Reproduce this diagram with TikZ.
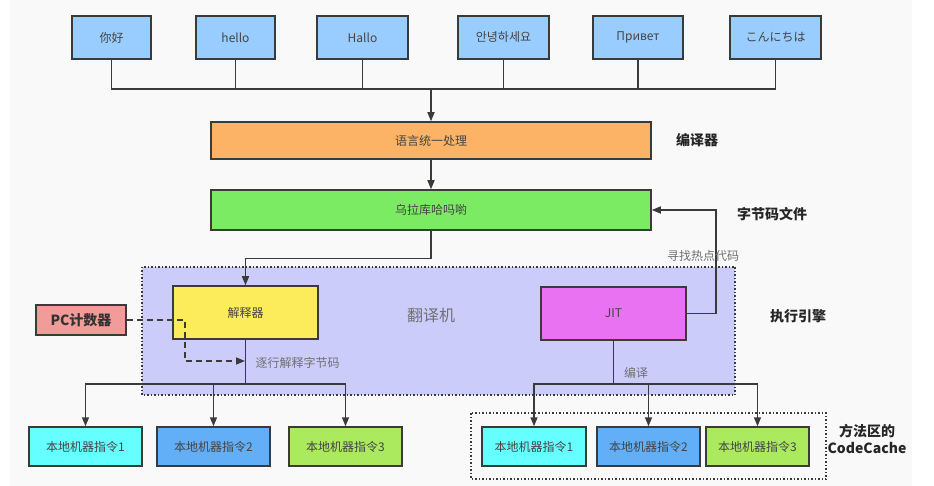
\documentclass[tikz,border=0pt]{standalone}
\usepackage{fontspec}
\setmainfont{Noto Sans CJK SC}
\newfontfamily\krfont{Noto Sans CJK KR}
\newfontfamily\jpfont{Noto Sans CJK JP}
\usetikzlibrary{arrows.meta}

\definecolor{bggray}{HTML}{F9F9F9}
\definecolor{linegray}{HTML}{3A3A3A}
\definecolor{textgray}{HTML}{444444}
\definecolor{notegray}{HTML}{707070}
\definecolor{langblue}{HTML}{99CCFF}
\definecolor{unifyorange}{HTML}{FCB366}
\definecolor{codegreen}{HTML}{7AEB62}
\definecolor{engineviolet}{HTML}{CCCCFA}
\definecolor{interpyellow}{HTML}{FCEB5B}
\definecolor{jitmagenta}{HTML}{E872F2}
\definecolor{pcsalmon}{HTML}{F19C99}
\definecolor{nativecyan}{HTML}{66FFFF}
\definecolor{nativeblue}{HTML}{62AEF7}
\definecolor{nativelime}{HTML}{ABEA5E}

\begin{document}
\begin{tikzpicture}[x=1pt,y=-1pt,>={Triangle[length=9pt,width=7pt]},
  box/.style={draw=linegray,line width=1.5pt,inner sep=0pt,text=textgray,font=\fontsize{12}{14}\selectfont},
  conn/.style={draw=linegray,line width=1.5pt},
  lbl/.style={font=\fontsize{14}{16}\selectfont\bfseries,text=black!85},
  note/.style={font=\fontsize{12}{14}\selectfont,text=notegray}]
  \useasboundingbox (0,0) rectangle (934,486);
  \fill [bggray] (10,0) rectangle (912,486);

  % execution engine and code cache regions
  \fill [engineviolet] (142,267) rectangle (735,395);
  \draw [linegray,line width=1.5pt,dotted] (142,267) rectangle (735,395);
  \draw [linegray,line width=1.5pt,dotted] (471,413) rectangle (826,479);

  % source languages
  \node [box,fill=langblue,minimum width=79pt,minimum height=43pt] (nihao) at (111.5,37.5) {你好};
  \node [box,fill=langblue,minimum width=79pt,minimum height=43pt] (hello) at (235.5,37.5) {hello};
  \node [box,fill=langblue,minimum width=91pt,minimum height=43pt] (hallo) at (362.5,37.5) {Hallo};
  \node [box,fill=langblue,minimum width=91pt,minimum height=43pt] (annyeong) at (503.5,37.5) {\krfont 안녕하세요};
  \node [box,fill=langblue,minimum width=90pt,minimum height=43pt] (privet) at (638,37.5) {Привет};
  \node [box,fill=langblue,minimum width=91pt,minimum height=43pt] (konnichiwa) at (775.5,37.5) {\jpfont こんにちは};

  \node [box,fill=unifyorange,minimum width=440pt,minimum height=37pt] (unify) at (431,140.5) {语言统一处理};
  \node [box,fill=codegreen,minimum width=440pt,minimum height=40pt] (bytecode) at (431,210) {乌拉库哈吗喲};

  \node [box,fill=interpyellow,minimum width=145pt,minimum height=53pt] (interp) at (245.5,312.5) {解释器};
  \node [box,fill=jitmagenta,minimum width=145pt,minimum height=53pt] (jit) at (613.5,313.5) {JIT};
  \node [font=\fontsize{16}{18}\selectfont,text=notegray] (translator) at (431,315) {翻译机};
  \node [box,fill=pcsalmon,minimum width=90pt,minimum height=30pt,font=\fontsize{14}{16}\selectfont\bfseries,text=black!80] (pc) at (81,320) {PC计数器};

  \node [box,fill=nativecyan,minimum width=113pt,minimum height=39pt] (inat1) at (85.5,446.5) {本地机器指令1};
  \node [box,fill=nativeblue,minimum width=113pt,minimum height=39pt] (inat2) at (213.5,446.5) {本地机器指令2};
  \node [box,fill=nativelime,minimum width=113pt,minimum height=39pt] (inat3) at (345.5,446.5) {本地机器指令3};
  \node [box,fill=nativecyan,minimum width=104pt,minimum height=39pt] (jnat1) at (534,446.5) {本地机器指令1};
  \node [box,fill=nativeblue,minimum width=103pt,minimum height=39pt] (jnat2) at (648.5,446.5) {本地机器指令2};
  \node [box,fill=nativelime,minimum width=103pt,minimum height=39pt] (jnat3) at (757.5,446.5) {本地机器指令3};

  % side labels
  \node [lbl] (compilerlbl) at (697,140) {编译器};
  \node [lbl] (bytecodelbl) at (772,214) {字节码文件};
  \node [lbl] (enginelbl) at (798,316) {执行引擎};
  \node [lbl,align=center,font=\fontsize{14}{17}\selectfont\bfseries] (cachelbl) at (867,439) {方法区的\\CodeCache};

  % connectors
  \coordinate (topbus) at (431,89);
  \foreach \lang in {nihao,hello,hallo,annyeong,privet,konnichiwa}
    \draw [conn] (\lang.south) |- (topbus);
  \draw [conn,->] (topbus) -- (unify.north);
  \draw [conn,->] (unify) -- (bytecode);
  \draw [conn,->] (bytecode.south) -- ++(0,28) -| (interp.north);
  \draw [conn,->] (jit.east) -- ++(29,0) |- (bytecode.east);
  \node [note] (hotlbl) at (703,256) {寻找热点代码};

  \draw [conn] (interp.south) -- ++(0,44) coordinate (ibus);
  \foreach \nat in {inat1,inat2,inat3}
    \draw [conn,->] (ibus) -| (\nat.north);
  \draw [conn] (jit.south) -- ++(0,43) coordinate (jbus);
  \foreach \nat in {jnat1,jnat2,jnat3}
    \draw [conn,->] (jbus) -| (\nat.north);
  \node [note] (compilelbl) at (636,373) {编译};

  \coordinate (pcturn) at (185,361);
  \coordinate (stepin) at (245,361);
  \draw [conn,dash pattern=on 6pt off 4pt,->] (pc.east) -| (pcturn) -- (stepin);
  \node [note,anchor=west] (steplbl) at (252,363) {逐行解释字节码};
\end{tikzpicture}
\end{document}
